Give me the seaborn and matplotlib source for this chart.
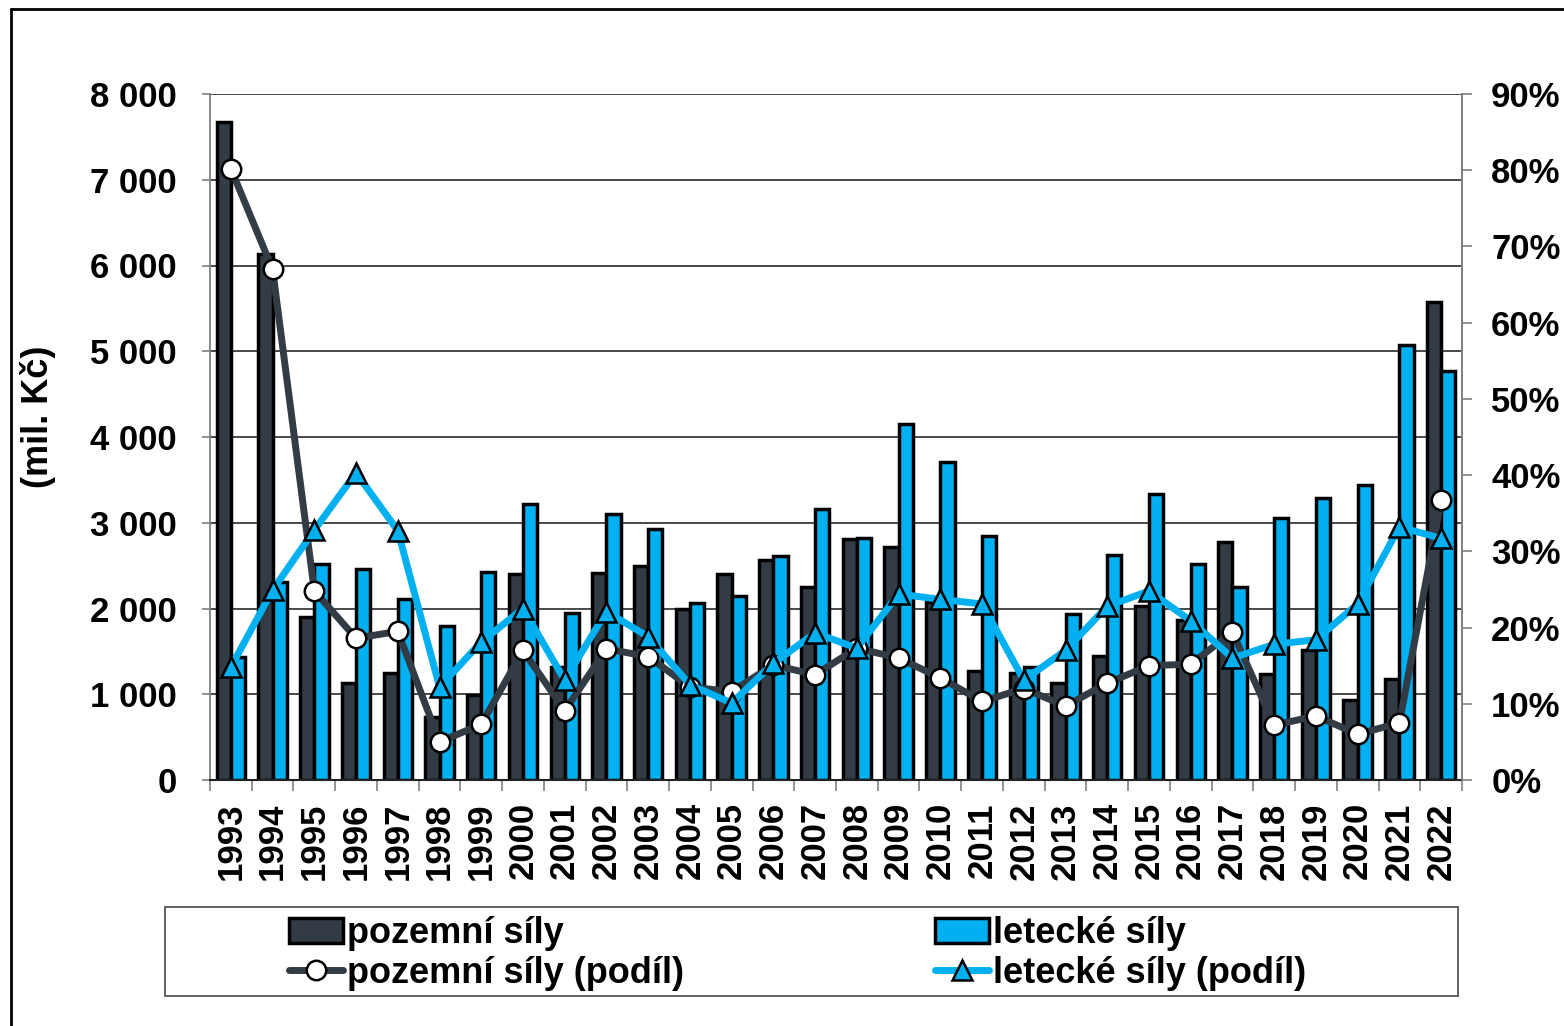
import numpy as np
import pandas as pd
import matplotlib
matplotlib.use("Agg")
import matplotlib.pyplot as plt
import seaborn as sns
from matplotlib.patches import Patch, Rectangle
from matplotlib.lines import Line2D
from matplotlib.ticker import FuncFormatter, FixedLocator

years = [str(y) for y in range(1993, 2023)]
pozemni = [7670, 6130, 1900, 1130, 1250, 730, 990, 2400, 1320, 2410,
           2500, 2000, 2400, 2560, 2250, 2810, 2720, 2080, 1270, 1250,
           1130, 1450, 2030, 1870, 2770, 1240, 1520, 930, 1180, 5570]
letecke = [1430, 2310, 2520, 2460, 2110, 1800, 2430, 3220, 1950, 3100,
           2930, 2060, 2140, 2610, 3160, 2820, 4150, 3710, 2850, 1320,
           1940, 2620, 3340, 2520, 2250, 3060, 3290, 3440, 5070, 4770]
pozemni_podil = [80.2, 67.0, 24.8, 18.6, 19.5, 5.0, 7.3, 17.0, 9.1, 17.2,
                 16.2, 12.2, 11.6, 15.1, 13.8, 17.3, 16.0, 13.4, 10.3, 12.0,
                 9.7, 12.7, 15.0, 15.2, 19.4, 7.2, 8.4, 6.0, 7.5, 36.7]
letecke_podil = [14.8, 24.9, 32.8, 40.3, 32.7, 12.2, 18.1, 22.5, 13.1, 22.1,
                 18.8, 12.5, 10.1, 15.3, 19.3, 17.3, 24.4, 23.7, 23.1, 13.1,
                 17.0, 22.8, 24.8, 20.9, 16.0, 17.8, 18.4, 23.1, 33.2, 31.7]
series_names = ["pozemní síly", "letecké síly"]
share_names = ["pozemní síly (podíl)", "letecké síly (podíl)"]

DARK = "#333c45"
CYAN = "#00b0f0"

sns.set_style("white")
plt.rcParams["font.family"] = ["Liberation Sans", "DejaVu Sans"]
plt.rcParams["font.weight"] = "bold"
plt.rcParams["text.color"] = "black"
plt.rcParams["axes.labelcolor"] = "black"
plt.rcParams["xtick.color"] = "black"
plt.rcParams["ytick.color"] = "black"

df = pd.DataFrame({
    "rok": years * 2,
    "řada": [series_names[0]] * len(years) + [series_names[1]] * len(years),
    "hodnota": pozemni + letecke,
})

W, H = 1564, 1026
fig = plt.figure(figsize=(W / 100, H / 100), dpi=100)
L, R, T, B = 210, 1462, 94, 780
ax = fig.add_axes([L / W, 1 - B / H, (R - L) / W, (B - T) / H])

sns.barplot(data=df, x="rok", y="hodnota", hue="řada", hue_order=series_names,
            palette=[DARK, CYAN], width=0.68, edgecolor="black", linewidth=2.5,
            saturation=1, legend=False, ax=ax, zorder=2)

ax.set_ylim(0, 8000)
ax.set_xlim(-0.5, len(years) - 0.5)
ax.set_yticks(np.arange(0, 8001, 1000))
ax.yaxis.set_major_formatter(FuncFormatter(lambda v, p: f"{int(v):,}".replace(",", " ")))
ax.grid(axis="y", color="#3a3a3a", linewidth=1.3)
ax.grid(axis="x", visible=False)
ax.set_axisbelow(True)
ax.set_xlabel("")
ax.set_ylabel("(mil. Kč)", fontsize=26, fontweight="bold", color="black")
ax.yaxis.set_label_coords((56 - L) / (R - L), (B - 417) / (B - T))
ax.tick_params(axis="y", which="major", left=True, length=6, width=1.2,
               color="#808080", pad=18, labelsize=25, labelcolor="black")
ax.tick_params(axis="x", which="major", length=0, pad=16, labelsize=25, rotation=90,
               labelcolor="black")
ax.xaxis.set_minor_locator(FixedLocator(np.arange(-0.5, len(years), 1.0)))
ax.tick_params(axis="x", which="minor", bottom=True, length=8, width=1.2, color="#808080")
for lab in ax.get_xticklabels() + ax.get_yticklabels():
    lab.set_fontweight("bold")
for s in ["left", "right", "top"]:
    ax.spines[s].set_color("#808080")
    ax.spines[s].set_linewidth(1.3)
ax.spines["top"].set_visible(False)
ax.spines["bottom"].set_color("#222222")
ax.spines["bottom"].set_linewidth(1.5)

ax2 = ax.twinx()
sns.pointplot(x=years, y=[v / 100 for v in pozemni_podil], ax=ax2, color=DARK,
              markers="o", linestyles="-", errorbar=None, linewidth=5, markersize=14)
n_before = len(ax2.lines)
sns.pointplot(x=years, y=[v / 100 for v in letecke_podil], ax=ax2, color=CYAN,
              markers="^", linestyles="-", errorbar=None, linewidth=5, markersize=14)
for i, ln in enumerate(ax2.lines):
    ln.set_markersize(14)
    ln.set_linewidth(5)
    if i < n_before:
        ln.set_color(DARK)
        ln.set_markerfacecolor("white")
    else:
        ln.set_color(CYAN)
        ln.set_markerfacecolor(CYAN)
    ln.set_markeredgecolor("black")
    ln.set_markeredgewidth(1.8)

ax2.set_ylim(0, 0.9)
ax2.set_yticks(np.arange(0, 0.91, 0.1))
ax2.yaxis.set_major_formatter(FuncFormatter(lambda v, p: f"{round(v * 100)}%"))
ax2.tick_params(axis="y", right=True, length=7, width=1.2, color="#808080",
                pad=14, labelsize=25, labelcolor="black")
for lab in ax2.get_yticklabels():
    lab.set_fontweight("bold")
ax2.set_xlim(-0.5, len(years) - 0.5)
ax2.set_ylabel("")
ax2.set_xlabel("")
ax2.grid(False)
for s in ["left", "top", "bottom"]:
    ax2.spines[s].set_visible(False)
ax2.spines["right"].set_color("#808080")
ax2.spines["right"].set_linewidth(1.3)

# legend
handles = [
    Patch(facecolor=DARK, edgecolor="black", linewidth=2.5),
    Line2D([], [], color=DARK, lw=5, marker="o", markersize=14,
           markerfacecolor="white", markeredgecolor="black", markeredgewidth=1.8),
    Patch(facecolor=CYAN, edgecolor="black", linewidth=2.5),
    Line2D([], [], color=CYAN, lw=5, marker="^", markersize=14,
           markerfacecolor=CYAN, markeredgecolor="black", markeredgewidth=1.8),
]
labels = [series_names[0], share_names[0], series_names[1], share_names[1]]
leg = fig.legend(handles, labels, ncol=2, loc="upper left",
                 bbox_to_anchor=(264 / W, 1 - 891 / H), frameon=False,
                 prop={"size": 26, "weight": "bold"}, handlelength=1.5,
                 handletextpad=0.1, columnspacing=6.95, labelspacing=0.12,
                 borderpad=0.2)
for t in leg.get_texts():
    t.set_color("black")

fig.add_artist(Rectangle((165 / W, 1 - 996 / H), (1458 - 165) / W, (996 - 907) / H,
                         transform=fig.transFigure, fill=False,
                         edgecolor="#555555", linewidth=1.3))
fig.add_artist(Line2D([11 / W, 11 / W], [0, 1 - 9 / H], transform=fig.transFigure,
                      color="black", linewidth=2))
fig.add_artist(Line2D([11 / W, 1], [1 - 9 / H, 1 - 9 / H], transform=fig.transFigure,
                      color="black", linewidth=2))

fig.savefig("out.png", dpi=100)
